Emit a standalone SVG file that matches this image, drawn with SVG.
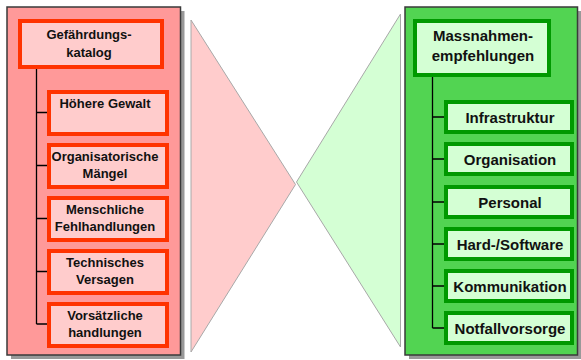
<svg xmlns="http://www.w3.org/2000/svg" width="581" height="360" viewBox="0 0 581 360">
  <style>
    .shadow { fill: #999999; }
    .panel { stroke: #3a3a3a; stroke-width: 1.5; }
    .red-panel { fill: #FF9999; }
    .green-panel { fill: #52D452; }
    .red-box { fill: #FFCCCC; stroke: #FF3300; stroke-width: 4; }
    .green-box { fill: #D4FFD4; stroke: #009900; stroke-width: 4; }
    .wedge { stroke: #A8A8A8; stroke-width: 1; }
    .link { fill: none; stroke: #000000; stroke-width: 1.3; }
    text { font-family: "Liberation Sans", Arial, sans-serif; font-weight: bold; fill: #111111; text-anchor: middle; }
    .t13 { font-size: 13px; }
    .t15 { font-size: 15px; }
  </style>

  <rect width="581" height="360" fill="#FFFFFF"/>

  <!-- funnel wedges between the two panels -->
  <g id="wedges">
    <polygon class="wedge" points="191,20 191,352 295.5,184.5" fill="#FFCCCC"/>
    <polygon class="wedge" points="400.5,14 400.5,347 296.5,182" fill="#D4FFD4"/>
  </g>

  <!-- left panel: hazard catalogue -->
  <g id="panel-left">
    <rect class="shadow" x="11" y="11" width="173.5" height="348"/>
    <rect class="panel red-panel" x="7" y="7" width="173.5" height="348"/>
  </g>

  <!-- right panel: recommended measures -->
  <g id="panel-right">
    <rect class="shadow" x="409" y="11" width="172" height="348"/>
    <rect class="panel green-panel" x="405" y="7" width="172.5" height="348"/>
  </g>

  <!-- tree connectors -->
  <g id="connectors">
    <path class="link" d="M36.5,68 V324 M36.5,112.5 H47 M36.5,165.5 H47 M36.5,218.5 H47 M36.5,271.5 H47 M36.5,324 H47"/>
    <path class="link" d="M432.5,76 V328 M432.5,117 H444 M432.5,159 H444 M432.5,202 H444 M432.5,244 H444 M432.5,286 H444 M432.5,328 H444"/>
  </g>

  <g id="gefaehrdungskatalog">
    <rect class="red-box" x="20" y="21" width="142" height="46"/>
    <text class="t13" x="89" y="39">Gefährdungs-</text>
    <text class="t13" x="89" y="57">katalog</text>
  </g>
  <g id="hoehere-gewalt">
    <rect class="red-box" x="49" y="92" width="118" height="42"/>
    <text class="t13" x="105" y="108">Höhere Gewalt</text>
  </g>
  <g id="organisatorische-maengel">
    <rect class="red-box" x="49" y="145" width="118" height="42"/>
    <text class="t13" x="105" y="161">Organisatorische</text>
    <text class="t13" x="105" y="178">Mängel</text>
  </g>
  <g id="menschliche-fehlhandlungen">
    <rect class="red-box" x="49" y="198" width="118" height="42"/>
    <text class="t13" x="105" y="214">Menschliche</text>
    <text class="t13" x="105" y="231">Fehlhandlungen</text>
  </g>
  <g id="technisches-versagen">
    <rect class="red-box" x="49" y="251" width="118" height="42"/>
    <text class="t13" x="105" y="267">Technisches</text>
    <text class="t13" x="105" y="284">Versagen</text>
  </g>
  <g id="vorsaetzliche-handlungen">
    <rect class="red-box" x="49" y="304" width="118" height="42"/>
    <text class="t13" x="105" y="320">Vorsätzliche</text>
    <text class="t13" x="105" y="337">handlungen</text>
  </g>

  <g id="massnahmenempfehlungen">
    <rect class="green-box" x="415" y="21" width="134" height="54"/>
    <text class="t15" x="483" y="41">Massnahmen-</text>
    <text class="t15" x="483" y="61">empfehlungen</text>
  </g>
  <g id="infrastruktur">
    <rect class="green-box" x="446" y="102" width="126" height="30"/>
    <text class="t15" x="510" y="122.5">Infrastruktur</text>
  </g>
  <g id="organisation">
    <rect class="green-box" x="446" y="144" width="126" height="30"/>
    <text class="t15" x="510" y="164.5">Organisation</text>
  </g>
  <g id="personal">
    <rect class="green-box" x="446" y="187" width="126" height="30"/>
    <text class="t15" x="510" y="207.5">Personal</text>
  </g>
  <g id="hard-software">
    <rect class="green-box" x="446" y="229" width="126" height="30"/>
    <text class="t15" x="510" y="249.5">Hard-/Software</text>
  </g>
  <g id="kommunikation">
    <rect class="green-box" x="446" y="271" width="126" height="30"/>
    <text class="t15" x="510" y="291.5">Kommunikation</text>
  </g>
  <g id="notfallvorsorge">
    <rect class="green-box" x="446" y="313" width="126" height="30"/>
    <text class="t15" x="510" y="333.5">Notfallvorsorge</text>
  </g>
</svg>
